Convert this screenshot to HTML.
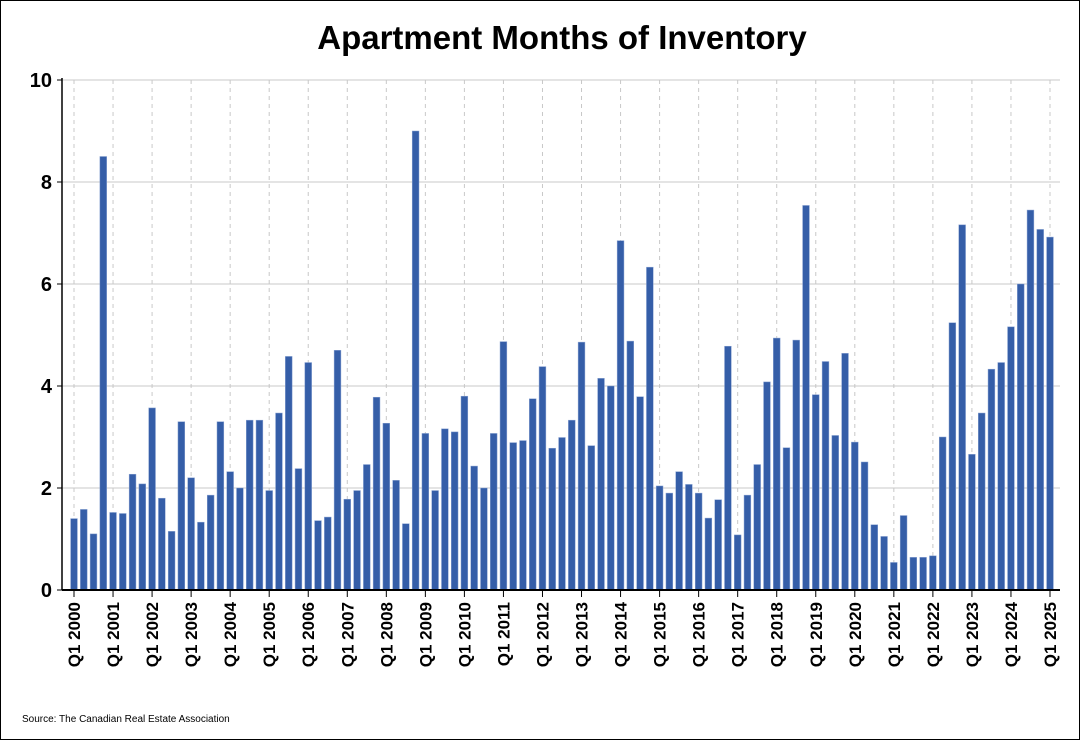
<!DOCTYPE html>
<html><head><meta charset="utf-8"><style>
body{margin:0;background:#fff}
svg{display:block;font-family:"Liberation Sans",Arial,sans-serif}
</style></head><body>
<svg id="c" width="1080" height="740">
<rect x="0.5" y="0.5" width="1079" height="739" fill="#fff" stroke="#000"/>
<text x="562" y="49" text-anchor="middle" font-size="33" font-weight="bold">Apartment Months of Inventory</text>
<text x="22" y="722" font-size="10">Source: The Canadian Real Estate Association</text>
<g id="grid"></g><g id="bars"></g><g id="axes"></g>
</svg>
<script>
const years = ["2000","2001","2002","2003","2004","2005","2006","2007","2008","2009","2010","2011","2012","2013","2014","2015","2016","2017","2018","2019","2020","2021","2022","2023","2024","2025"];
const values = [1.4,1.58,1.1,8.5, 1.52,1.5,2.27,2.08, 3.57,1.8,1.15,3.3, 2.2,1.33,1.86,3.3, 2.32,2.0,3.33,3.33, 1.95,3.47,4.58,2.38, 4.46,1.36,1.43,4.7, 1.78,1.95,2.46,3.78, 3.27,2.15,1.3,9.0, 3.07,1.95,3.16,3.1, 3.8,2.43,2.0,3.07, 4.87,2.89,2.93,3.75, 4.38,2.78,2.99,3.33, 4.86,2.83,4.15,4.0, 6.85,4.88,3.79,6.33, 2.04,1.9,2.32,2.07, 1.9,1.41,1.77,4.78, 1.08,1.86,2.46,4.08, 4.94,2.79,4.9,7.54, 3.83,4.48,3.03,4.64, 2.9,2.51,1.28,1.05, 0.54,1.46,0.64,0.64, 0.67,3.0,5.24,7.16, 2.66,3.47,4.33,4.46, 5.16,6.0,7.45,7.07, 6.92];
const yTicks = [0,2,4,6,8,10];
const NS="http://www.w3.org/2000/svg";
const x0=62,x1=1060,y0=590,y1=80;
const xs=i=>74+i*(1050-74)/100;
const ys=v=>y0-(v/10)*(y0-y1);
function mk(t,a,p){const e=document.createElementNS(NS,t);for(const k in a)e.setAttribute(k,a[k]);p.appendChild(e);return e;}
const grid=document.getElementById('grid'),bars=document.getElementById('bars'),axes=document.getElementById('axes');
yTicks.forEach(v=>{
  const l=mk('line',{x1:x0,x2:x1,y1:ys(v),y2:ys(v),stroke:'#c8c8c8','stroke-width':1},grid);
  
  
  const t=mk('line',{x1:x0-5,x2:x0,y1:ys(v),y2:ys(v),stroke:'#000'},axes);
  
  
  const tx=mk('text',{x:x0-10,y:ys(v)+7,'text-anchor':'end','font-size':20,'font-weight':'bold'},axes);
  tx.textContent=v;
  
  
});
years.forEach((y,k)=>{
  const x=xs(k*4);
  const g=mk('line',{x1:x,x2:x,y1:y1,y2:y0,stroke:'#c8c8c8','stroke-dasharray':'4,4'},grid);
  
  
  const t=mk('line',{x1:x,x2:x,y1:y0,y2:y0+7,stroke:'#000'},axes);
  
  
  const tx=mk('text',{x:0,y:0,transform:`translate(${x+6},${y0+12}) rotate(-90)`,'text-anchor':'end','font-size':17,'font-weight':'bold'},axes);
  tx.textContent='Q1 '+y;
  
  
});
values.forEach((v,i)=>{
  const r=mk('rect',{x:xs(i)-3.4,y:ys(v),width:6.8,height:y0-ys(v),fill:'#355ea8',stroke:'#8aa3d2','stroke-width':0.5},bars);
  
  
});
const ax=mk('line',{x1:x0,x2:x0,y1:y1-2,y2:y0,stroke:'#000','stroke-width':1.5},axes);


const bx=mk('line',{x1:x0,x2:x1,y1:y0,y2:y0,stroke:'#000','stroke-width':2},axes);


</script>
</body></html>
